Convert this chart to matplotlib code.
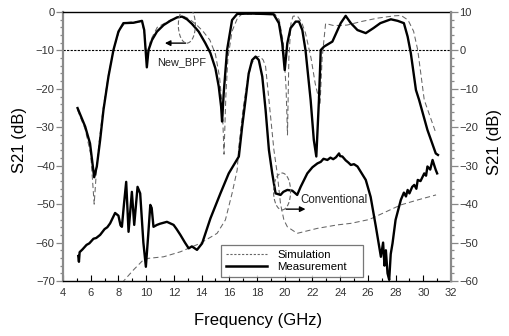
import matplotlib
matplotlib.use("Agg")
import matplotlib.pyplot as plt
from matplotlib.ticker import MultipleLocator
from matplotlib.patches import Ellipse
from matplotlib.lines import Line2D

plt.rcParams['font.family'] = ['Liberation Sans', 'DejaVu Sans']

# New_BPF, measured (left axis, dB)
new_meas_f = [5.05, 5.6, 5.95, 6.25, 6.44, 6.68, 6.92, 7.28, 7.64, 8.0, 8.36, 9.09, 9.7, 9.86,
              10.05, 10.17, 10.42, 10.78, 11.26, 11.74, 12.23, 12.59, 12.95, 13.31, 13.79, 14.27,
              14.64, 15.0, 15.24, 15.41, 15.48, 15.6, 15.84, 16.2, 16.57, 17.5, 18.5, 19.2, 19.58,
              19.82, 20.0, 20.19, 20.42, 20.79, 21.03, 21.27, 21.5, 21.87, 22.1, 22.28, 22.47, 22.6,
              22.84, 23.44, 24.04, 24.4, 24.77, 25.25, 25.85, 26.4, 26.9, 27.66, 28.15, 28.6, 28.87,
              29.1, 29.47, 29.7, 30.3, 30.9, 31.06]
new_meas_db = [-25.0, -29.8, -34.2, -43.0, -40.2, -33.3, -25.5, -16.8, -9.9, -5.1, -2.9, -2.8, -2.3, -4.7,
               -14.4, -9.9, -7.3, -5.1, -3.4, -2.3, -1.4, -1.2, -1.9, -3.1, -5.1, -8.1,
               -10.7, -14.7, -19.4, -24.6, -28.5, -21.0, -9.9, -2.1, -0.5, -0.4, -0.5, -0.6, -2.9,
               -8.1, -15.1, -8.1, -4.2, -2.5, -2.5, -4.7, -9.9, -22.9, -33.3, -37.6, -22.9, -9.9,
               -9.0, -7.7, -2.9, -1.0, -2.9, -4.7, -5.5, -4.2, -2.9, -1.9, -2.3, -2.9, -6.4,
               -10.7, -20.3, -22.9, -30.7, -36.8, -37.2]

# New_BPF, simulated (left axis, dB)
new_sim_f = [5.05, 5.6, 6.0, 6.25, 6.4, 6.6, 6.9, 7.3, 7.7, 8.1, 8.5, 9.2, 9.7, 9.9, 10.05, 10.3,
             10.8, 11.3, 11.8, 12.3, 12.7, 13.1, 13.6, 14.1, 14.6, 15.0, 15.3, 15.5, 15.62, 15.75,
             15.9, 16.2, 16.6, 16.9, 19.3, 19.6, 19.9, 20.1, 20.2, 20.3, 20.45, 20.6, 20.9, 21.2,
             21.5, 21.9, 22.2, 22.55, 22.7, 22.95, 23.5, 24.0, 24.5, 25.5, 26.7, 27.9, 28.4, 28.9,
             29.3, 29.6, 30.07, 30.92]
new_sim_db = [-25.5, -30.5, -37.0, -50.0, -42.0, -34.0, -25.0, -16.0, -9.0, -4.5, -2.8, -2.5, -2.6, -6.0,
              -13.5, -7.5, -4.0, -3.0, -2.0, -1.3, -1.1, -1.8, -3.2, -5.0, -7.3, -11.0, -17.0, -25.0,
              -37.0, -22.0, -12.0, -5.0, -1.5, -0.6, -0.6, -2.0, -8.0, -20.0, -32.0, -12.0, -3.0, -1.1,
              -1.0, -2.5, -5.5, -12.0, -18.6, -24.0, -12.0, -3.0, -3.5, -3.5, -3.4, -2.5, -1.6, -1.0,
              -0.9, -2.1, -5.0, -9.9, -22.9, -31.6]

# Conventional, measured (right axis, dB)
conv_meas_f = [5.1, 5.15, 5.2, 5.4, 5.7, 5.9, 6.2, 6.4, 6.68, 7.0, 7.2, 7.4, 7.76, 8.0, 8.15, 8.25, 8.4,
               8.56, 8.73, 8.97, 9.14, 9.38, 9.57, 9.8, 9.98, 10.15, 10.3, 10.4, 10.53, 10.78, 11.0,
               11.5, 11.98, 12.2, 12.47, 12.8, 13.07, 13.3, 13.67, 14.04, 14.64, 15.36, 15.96, 16.69,
               16.93, 17.17, 17.4, 17.65, 17.9, 18.13, 18.38, 18.62, 18.86, 19.1, 19.34, 19.7, 19.9,
               20.19, 20.55, 20.9, 21.15, 21.63, 22.0, 22.36, 22.6, 22.8, 23.08, 23.3, 23.5, 23.7,
               23.92, 24.0, 24.16, 24.4, 24.6, 24.77, 25.0, 25.25, 25.85, 26.2, 26.58, 26.94, 27.1,
               27.2, 27.3, 27.42, 27.54, 27.65, 27.78, 28.0, 28.38, 28.6, 28.75, 28.87, 29.0, 29.2,
               29.35, 29.5, 29.6, 29.8, 30.07, 30.2, 30.3, 30.5, 30.67, 30.8, 30.9, 31.0]
conv_meas_db = [-53.5, -55.0, -52.5, -51.8, -50.6, -50.2, -49.0, -48.8, -48.0, -46.5, -46.0, -45.0,
                -42.3, -43.0, -45.5, -45.9, -40.0, -34.2, -47.2, -36.8, -45.4, -35.5, -37.2, -50.0,
                -56.3, -48.0, -40.2, -41.0, -45.9, -45.4, -45.1, -44.6, -45.4, -46.5, -48.0, -50.0,
                -51.5, -51.0, -51.9, -50.2, -43.7, -37.2, -32.0, -27.6, -19.8, -12.9, -6.0, -2.5,
                -1.6, -2.5, -6.8, -15.5, -25.9, -32.0, -37.2, -37.6, -36.8, -36.3, -36.5, -37.6,
                -35.5, -32.0, -30.4, -29.4, -29.0, -28.2, -28.5, -27.9, -28.3, -27.8, -26.8, -27.5,
                -27.6, -28.6, -29.2, -29.8, -29.6, -30.2, -33.7, -38.1, -45.9, -53.7, -50.0, -56.0,
                -52.0, -58.0, -59.7, -53.0, -50.2, -44.1, -38.9, -37.0, -38.0, -36.3, -37.2, -35.5,
                -35.0, -36.0, -33.7, -34.0, -32.0, -32.6, -30.2, -31.0, -28.5, -30.0, -31.1, -32.0]

# Conventional, simulated (right axis, dB)
conv_sim_f = [8.25, 9.09, 9.8, 10.17, 11.26, 12.47, 13.9, 15.12, 15.72, 16.2, 16.57, 16.69, 17.0, 17.3,
              17.6, 17.9, 18.2, 18.45, 18.62, 18.98, 19.22, 19.46, 19.7, 19.94, 20.19, 20.9, 22.36,
              23.8, 24.77, 26.1, 28.38, 29.6, 30.92]
conv_sim_db = [-60.5, -57.1, -54.5, -54.1, -53.7, -52.4, -50.2, -47.6, -44.1, -37.2, -31.1, -25.0, -15.0,
               -8.0, -3.5, -1.8, -1.5, -2.5, -4.2, -17.2, -25.9, -32.0, -40.0, -44.1, -45.9, -47.6,
               -46.3, -45.4, -45.0, -44.0, -40.2, -38.9, -37.6]

sim_color = '#666666'
sim_style = dict(color=sim_color, lw=0.75, ls=(0, (5, 3)))
meas_style = dict(color='black', lw=1.7)

fig = plt.figure(figsize=(5.1, 3.36), dpi=100)
ax = fig.add_axes([63 / 510, 1 - 281 / 336, (451 - 63) / 510, (281 - 12) / 336])
ax2 = ax.twinx()

ax.set_xlim(4, 32)
ax.set_ylim(-70, 0)
ax2.set_ylim(-60, 10)

# 0 dB reference on the right axis
ax.axhline(-10, color='black', lw=0.8, ls=(0, (2, 1.2)), zorder=1)

ax.plot(new_sim_f, new_sim_db, zorder=2, **sim_style)
ax.plot(new_meas_f, new_meas_db, zorder=3, **meas_style)
ax2.plot(conv_sim_f, conv_sim_db, zorder=2, **sim_style)
ax2.plot(conv_meas_f, conv_meas_db, zorder=3, **meas_style)

# ticks and spines
ax.xaxis.set_major_locator(MultipleLocator(2))
ax.xaxis.set_minor_locator(MultipleLocator(1))
ax.yaxis.set_major_locator(MultipleLocator(10))
ax.yaxis.set_minor_locator(MultipleLocator(2))
ax2.yaxis.set_major_locator(MultipleLocator(10))
ax2.yaxis.set_minor_locator(MultipleLocator(2))

tick_lab = '#333333'
ax.tick_params(axis='x', which='major', direction='in', length=4, width=0.8, pad=5,
               labelsize=8, labelcolor=tick_lab, top=False)
ax.tick_params(axis='x', which='minor', direction='in', length=2.5, width=0.8, top=False)
ax.tick_params(axis='y', which='major', direction='out', length=5, width=0.9, pad=1,
               labelsize=8, labelcolor=tick_lab, color='#888888', right=False)
ax.tick_params(axis='y', which='minor', direction='out', length=2.5, width=0.9,
               color='#888888', right=False)
ax2.tick_params(axis='y', which='major', direction='out', length=5, width=0.9, pad=1,
                labelsize=8, labelcolor=tick_lab, color='#888888')
ax2.tick_params(axis='y', which='minor', direction='out', length=2.5, width=0.9, color='#888888')

for sp in ('left', 'top', 'bottom'):
    ax2.spines[sp].set_visible(False)
ax.spines['right'].set_visible(False)
ax.spines['left'].set_color('#8a8a8a')
ax.spines['left'].set_linewidth(1.6)
ax2.spines['right'].set_color('#8a8a8a')
ax2.spines['right'].set_linewidth(1.6)
ax.spines['top'].set_linewidth(1.0)
ax.spines['bottom'].set_linewidth(1.0)

fig.text(20 / 510, 1 - 140 / 336, 'S21 (dB)', rotation=90, ha='center', va='center', fontsize=12)
fig.text(495 / 510, 1 - 142 / 336, 'S21 (dB)', rotation=90, ha='center', va='center', fontsize=12)
fig.text(258 / 510, 1 - 320 / 336, 'Frequency (GHz)', ha='center', va='center', fontsize=12)

# annotations
ax.add_patch(Ellipse((12.94, -3.4), 1.23, 9.4, fill=False, ec=sim_color, lw=0.8,
                     ls=(0, (4, 2)), zorder=4))
ax.annotate('', xy=(11.15, -8.1), xytext=(13.05, -8.1),
            arrowprops=dict(arrowstyle='-|>', color='black', lw=1.0, mutation_scale=8))
ax.text(10.8, -13.0, 'New_BPF', fontsize=7.8, color='#222222', ha='left', va='center')

ax2.add_patch(Ellipse((19.81, -36.7), 1.23, 9.6, fill=False, ec=sim_color, lw=0.8,
                      ls=(0, (4, 2)), zorder=4))
ax2.annotate('', xy=(21.7, -41.3), xytext=(19.9, -41.3),
             arrowprops=dict(arrowstyle='-|>', color='black', lw=1.0, mutation_scale=8))
ax2.text(21.15, -38.8, 'Conventional', fontsize=8.3, color='#222222', ha='left', va='center')

handles = [Line2D([], [], color=sim_color, lw=0.8, ls=(0, (2, 1.5))),
           Line2D([], [], color='black', lw=1.8)]
leg = ax2.legend(handles, ['Simulation', 'Measurement'], loc='lower left',
                 bbox_to_anchor=(0.407, 0.015, 0.366, 0.145), mode='expand',
                 fontsize=8.2, frameon=True, fancybox=False, borderpad=0.45,
                 labelspacing=0.15, handlelength=3.6, handletextpad=0.9,
                 borderaxespad=0.0)
leg.get_frame().set_edgecolor('#555555')
leg.get_frame().set_linewidth(0.9)
leg.set_zorder(10)

fig.savefig('out.png', dpi=100)
